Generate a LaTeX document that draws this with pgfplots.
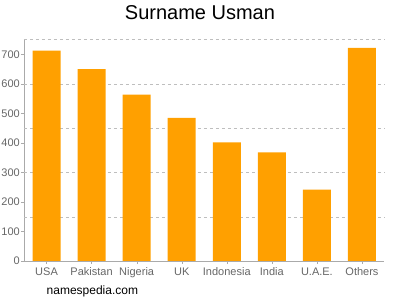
\documentclass[border=0pt]{standalone}
\usepackage{fontspec}
\setmainfont{Liberation Sans}
\usepackage{pgfplots}
\pgfplotsset{compat=1.18}
\definecolor{barorange}{RGB}{255,160,0}
\definecolor{axgray}{RGB}{170,170,170}
\definecolor{gridgray}{RGB}{190,190,190}
\definecolor{labgray}{RGB}{102,102,102}
\begin{document}
\begin{tikzpicture}[x=1pt,y=1pt]
\path[use as bounding box] (0,0) rectangle (400,300);
\begin{axis}[at={(24pt,39pt)}, anchor=south west, width=360.5pt, height=221.4pt, scale only axis,
 xmin=-0.5, xmax=7.5, ymin=0, ymax=750,
 axis lines*=left, axis line style={axgray},
 xtick={0,...,7}, xticklabels={USA,Pakistan,Nigeria,UK,Indonesia,India,U.A.E.,Others},
 ytick={0,100,...,700},
 tick style={axgray}, major tick length=3pt, tick align=outside,
 tick label style={font=\fontsize{11}{13}\selectfont, text=labgray},
 yticklabel style={inner xsep=1pt},
 /pgf/number format/assume math mode=true,
 extra y ticks={150,300,450,600,750}, extra y tick labels={}, extra y tick style={grid=major, major tick length=0pt},
 grid style={gridgray, dash pattern=on 3pt off 3pt},
 ybar, bar width=28pt,
 ]
\addplot[fill=barorange, draw=none] coordinates {(0,713) (1,650) (2,564) (3,485) (4,402) (5,368) (6,242) (7,722)};
\end{axis}
\node[font=\fontsize{20}{24}\selectfont] at (200,287) {Surname Usman};
\node[font=\fontsize{12}{14}\selectfont, anchor=west, inner sep=0] at (46.5,8.5) {namespedia.com};
\end{tikzpicture}
\end{document}
